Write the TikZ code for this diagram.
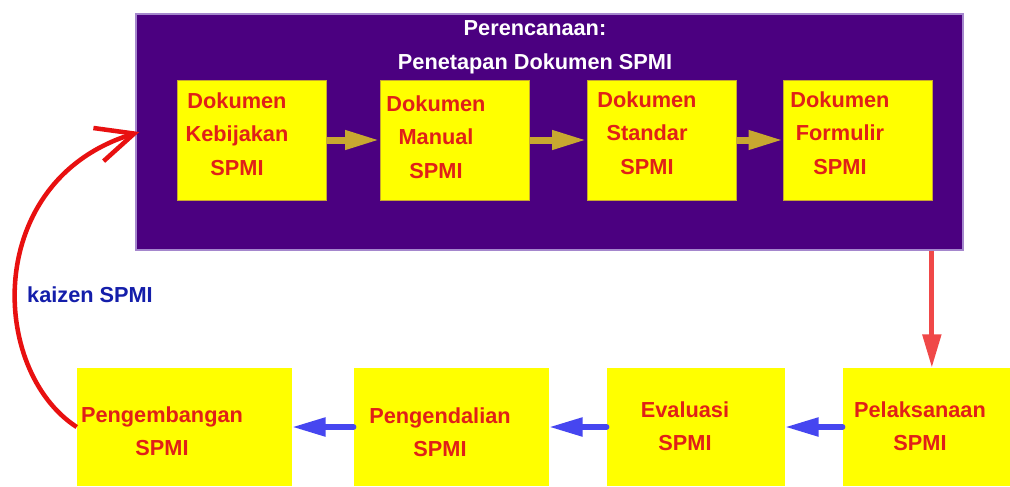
\documentclass[tikz,border=0pt]{standalone}
\usepackage{fontspec}
\setmainfont{Liberation Sans}
\usetikzlibrary{arrows.meta}
\definecolor{ungu}{RGB}{75,0,128}
\definecolor{ungumuda}{RGB}{165,135,205}
\definecolor{kuning}{RGB}{255,255,0}
\definecolor{merah}{RGB}{224,32,24}
\definecolor{emas}{RGB}{200,168,48}
\definecolor{biru}{RGB}{70,70,240}
\definecolor{birutua}{RGB}{20,30,170}
\definecolor{merahpanah}{RGB}{240,72,72}
\definecolor{merahtua}{RGB}{232,16,16}
\begin{document}
\begin{tikzpicture}[x=0.75pt,y=-0.75pt,
  kotak/.style={fill=kuning,minimum height=90pt,inner sep=0pt},
  teks/.style={text=merah,font=\fontsize{16.3}{25}\selectfont\bfseries,align=center,inner sep=0pt},
  panahemas/.style={emas,line width=5.25pt,-{Triangle[length=26pt,width=13.5pt]}},
  panahbiru/.style={biru,line width=4pt,line cap=round,-{Triangle[length=25pt,width=13.5pt]}}]
  \useasboundingbox[fill=white] (0,0) rectangle (1010,486);
  \node[fill=ungu,draw=ungumuda,line width=1pt,minimum width=620.25pt,minimum height=177pt] (perencanaan) at (549.5,132) {};
  \node[text=white,font=\fontsize{16.3}{25.5}\selectfont\bfseries,align=center,inner sep=0pt] (judul) at (535,47) {Perencanaan:\\Penetapan Dokumen SPMI};
  \node[kotak,minimum width=111.75pt,draw=emas,line width=0.5pt] (kebijakan) at (251.5,140) {};
  \node[kotak,minimum width=111.75pt,draw=emas,line width=0.5pt] (manual) at (454.5,140) {};
  \node[kotak,minimum width=111.75pt,draw=emas,line width=0.5pt] (standar) at (661.5,140) {};
  \node[kotak,minimum width=111.75pt,draw=emas,line width=0.5pt] (formulir) at (858,140) {};
  \node[teks] (kebijakan-t) at (237,134) {Dokumen\\Kebijakan\\SPMI};
  \node[teks] (manual-t) at (436,137) {Dokumen\\Manual\\SPMI};
  \node[teks] (standar-t) at (647,133) {Dokumen\\Standar\\SPMI};
  \node[teks] (formulir-t) at (840,133) {Dokumen\\Formulir\\SPMI};
  \foreach \a/\b in {kebijakan/manual,manual/standar,standar/formulir}
    \draw[panahemas] (\a) -- (\b);
  \node[kotak,minimum width=161.25pt,minimum height=88.5pt] (pengembangan) at (184.5,427) {};
  \node[kotak,minimum width=146.25pt,minimum height=88.5pt] (pengendalian) at (451.5,427) {};
  \node[kotak,minimum width=133.5pt,minimum height=88.5pt] (evaluasi) at (696,427) {};
  \node[kotak,minimum width=125.25pt,minimum height=88.5pt] (pelaksanaan) at (926.5,427) {};
  \node[teks] (pengembangan-t) at (162,431) {Pengembangan\\SPMI};
  \node[teks] (pengendalian-t) at (440,432) {Pengendalian\\SPMI};
  \node[teks] (evaluasi-t) at (685,426) {Evaluasi\\SPMI};
  \node[teks] (pelaksanaan-t) at (920,426) {Pelaksanaan\\SPMI};
  \foreach \a/\b in {pelaksanaan/evaluasi,evaluasi/pengendalian,pengendalian/pengembangan}
    \draw[panahbiru] (\a) -- (\b);
  \coordinate (turun) at ([xshift=4pt]pelaksanaan.north);
  \draw[merahpanah,line width=3.75pt,-{Triangle[length=25pt,width=13.5pt]}] (perencanaan.south -| turun) -- (turun);
  \draw[merahtua,line width=3.4pt,-{Straight Barb[length=28pt,width=26pt]}] (pengembangan.west) .. controls +(-88,-57) and +(-156,48) .. ([xshift=3pt]perencanaan.west);
  \node[text=birutua,font=\fontsize{16.3}{20}\selectfont\bfseries,inner sep=0pt] (kaizen) at (90,295) {kaizen SPMI};
\end{tikzpicture}
\end{document}
